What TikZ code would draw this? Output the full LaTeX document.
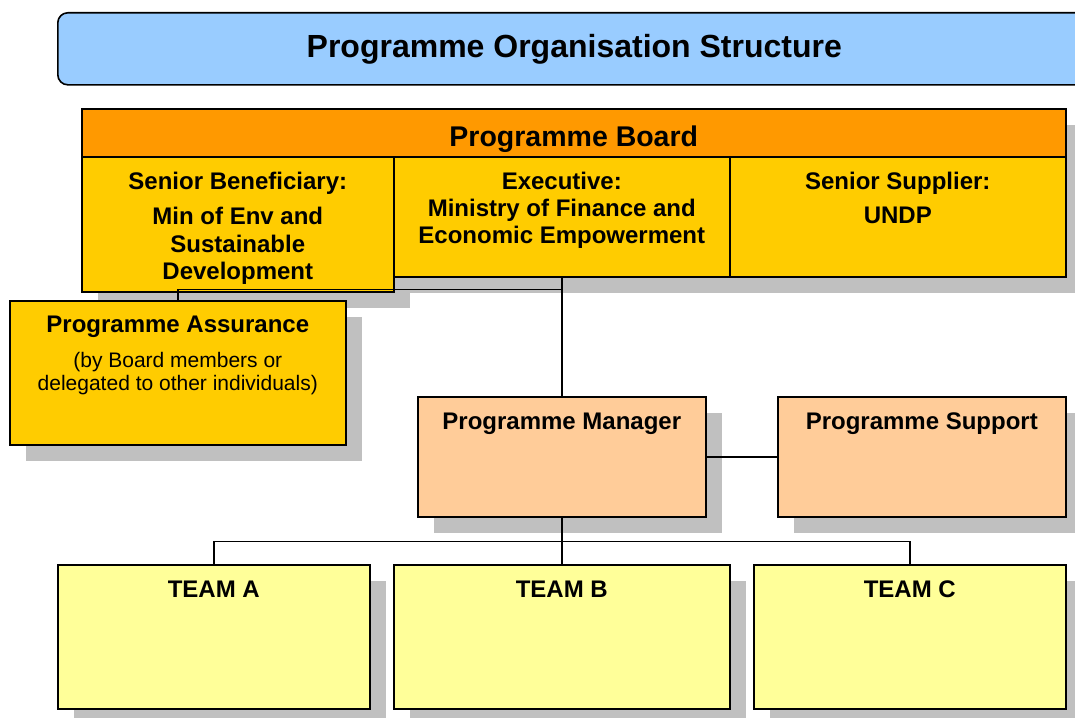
\documentclass[tikz,border=0pt]{standalone}
\usepackage{fontspec}
\setmainfont{Liberation Sans}
\usepackage{xcolor}
\usepackage{tikz}
\usetikzlibrary{shapes,positioning,calc,shadows}

\definecolor{titleblue}{HTML}{99CCFF}
\definecolor{boardorange}{HTML}{FF9900}
\definecolor{boardyellow}{HTML}{FFCC00}
\definecolor{mgrpeach}{HTML}{FFCC99}
\definecolor{teamyellow}{HTML}{FFFF99}
\definecolor{shadegray}{HTML}{C0C0C0}

\begin{document}
\begin{tikzpicture}[x=1pt,y=-1pt,
    flatbox/.style={draw, line width=1.6pt, anchor=north west, inner sep=0pt},
    orgbox/.style={flatbox, drop shadow={shadow xshift=16pt, shadow yshift=-16pt, fill=shadegray, opacity=1}},
    boxtext/.style={anchor=north, inner sep=0pt, align=center, font=\bfseries\fontsize{24}{27.5}\selectfont},
    smalltext/.style={anchor=north, inner sep=0pt, align=center, font=\fontsize{21}{23}\selectfont},
    link/.style={line width=1.4pt}]
    \clip (0,0) rectangle (1075,717);

    % Title
    \node[flatbox, fill=titleblue, rounded corners=10pt, minimum width=1033, minimum height=72] (title) at (57,12) {};
    \node[boxtext, font=\bfseries\fontsize{32}{36}\selectfont] (titleT) at ([yshift=-22]title.north) {Programme Organisation Structure};

    % Board
    \node[orgbox, fill=boardorange, minimum width=984, minimum height=48] (board) at (81,108) {};
    \node[orgbox, fill=boardyellow, minimum width=312, minimum height=135] (benef) at (81,156) {};
    \node[orgbox, fill=boardyellow, minimum width=336, minimum height=120] (exec) at (393,156) {};
    \node[orgbox, fill=boardyellow, minimum width=336, minimum height=120] (supp) at (729,156) {};
    \node[boxtext, font=\bfseries\fontsize{28.5}{32}\selectfont] (boardT) at ([yshift=-18]board.north) {Programme Board};
    \node[boxtext] (benefT) at ([yshift=-16]benef.north) {Senior Beneficiary:\\[7.5pt]Min of Env and\\Sustainable\\Development};
    \node[boxtext, font=\bfseries\fontsize{24}{27}\selectfont] (execT) at ([yshift=-16]exec.north) {Executive:\\Ministry of Finance and\\Economic Empowerment};
    \node[boxtext, font=\bfseries\fontsize{24}{27}\selectfont] (suppT) at ([yshift=-16]supp.north) {Senior Supplier:\\[7pt]UNDP};

    % Assurance
    \node[orgbox, fill=boardyellow, minimum width=336, minimum height=144] (assur) at (9,300) {};
    \node[boxtext] (assurT) at ([yshift=-15.5]assur.north) {Programme Assurance};
    \node[smalltext] (assurN) at ([yshift=-52]assur.north) {(by Board members or\\delegated to other individuals)};

    % Manager and support
    \node[orgbox, fill=mgrpeach, minimum width=288, minimum height=120] (pm) at (417,396) {};
    \node[orgbox, fill=mgrpeach, minimum width=288, minimum height=120] (ps) at (777,396) {};
    \node[boxtext] (pmT) at ([yshift=-16.5]pm.north) {Programme Manager};
    \node[boxtext] (psT) at ([yshift=-16.5]ps.north) {Programme Support};

    % Teams
    \node[orgbox, fill=teamyellow, minimum width=312, minimum height=144] (teamA) at (57,564) {};
    \node[orgbox, fill=teamyellow, minimum width=336, minimum height=144] (teamB) at (393,564) {};
    \node[orgbox, fill=teamyellow, minimum width=312, minimum height=144] (teamC) at (753,564) {};
    \node[boxtext] (teamAT) at ([yshift=-16.5]teamA.north) {TEAM A};
    \node[boxtext] (teamBT) at ([yshift=-16.5]teamB.north) {TEAM B};
    \node[boxtext] (teamCT) at ([yshift=-16.5]teamC.north) {TEAM C};

    % Links
    \coordinate (split) at ([yshift=-12]exec.south);
    \coordinate (bus) at ([yshift=-24]pm.south);
    \draw[link] (exec.south) -- (pm.north);
    \draw[link] (split) -| (assur.north);
    \draw[link] (pm.east) -- (ps.west);
    \draw[link] (pm.south) -- (teamB.north);
    \draw[link] (teamA.north) |- (bus) -| (teamC.north);
\end{tikzpicture}
\end{document}
